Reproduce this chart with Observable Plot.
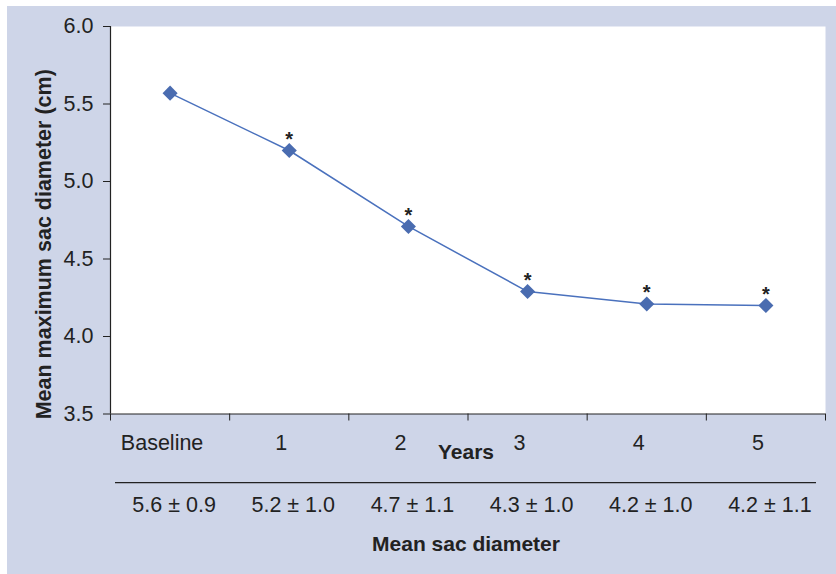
<!DOCTYPE html>
<html>
<head>
<meta charset="utf-8">
<script src="https://cdn.jsdelivr.net/npm/d3@7"></script>
<script src="https://cdn.jsdelivr.net/npm/@observablehq/plot@0.6"></script>
<style>
  html, body { margin: 0; padding: 0; background: #ffffff; }
  #chart { position: absolute; left: 7px; top: 6px; }
  #chart svg { display: block; }
</style>
</head>
<body>
<div id="chart"></div>
<script>
const categories = ["Baseline", "1", "2", "3", "4", "5"];
const meanDiameter = [5.57, 5.2, 4.71, 4.29, 4.21, 4.2];
const significant = [false, true, true, true, true, true];
const sacDiameterLabels = ["5.6 ± 0.9", "5.2 ± 1.0", "4.7 ± 1.1", "4.3 ± 1.0", "4.2 ± 1.0", "4.2 ± 1.1"];
const yTicks = [3.5, 4.0, 4.5, 5.0, 5.5, 6.0];

const data = categories.map((c, i) => ({
  pos: i + 0.5, cat: c, value: meanDiameter[i], sig: significant[i], table: sacDiameterLabels[i]
}));
const centers = data.map(d => d.pos);
const bounds = d3.range(categories.length + 1);

const font = "Liberation Sans, Arial, sans-serif";
const ink = "#222222";

const W = 829, H = 568;
const mL = 103, mR = 11, mT = 20, mB = 160.5;

const chart = Plot.plot({
  width: W,
  height: H,
  marginLeft: mL,
  marginRight: mR,
  marginTop: mT,
  marginBottom: mB,
  style: { background: "#ced5e8", fontFamily: font, color: ink, overflow: "visible" },
  x: { type: "linear", domain: [0, categories.length], axis: null },
  y: { domain: [3.5, 6.0], axis: null },
  marks: [
    Plot.frame({ fill: "white", stroke: "none" }),
    Plot.ruleX([0], { stroke: ink, strokeWidth: 1.2 }),
    Plot.ruleY([3.5], { stroke: ink, strokeWidth: 1.2 }),
    Plot.axisY({ ticks: yTicks, tickSize: 7, tickPadding: 10, fontSize: 21.5, tickFormat: d3.format(".1f"), label: null, stroke: ink }),
    Plot.axisX({ ticks: bounds, tickSize: 7, tickFormat: () => "", label: null, stroke: ink }),
    Plot.axisX({ ticks: centers, tickSize: 0, tickPadding: 20.5, fontSize: 21.5, dx: -8,
      tickFormat: d => categories[Math.floor(d)], label: null }),
    Plot.text(data, { x: "pos", text: "table", frameAnchor: "bottom", lineAnchor: "top",
      dy: 82.5, dx: 4, fontSize: 21.5, fill: ink }),
    Plot.line(data, { x: "pos", y: "value", stroke: "#4a71bd", strokeWidth: 1.5 }),
    Plot.dot(data, { x: "pos", y: "value", symbol: "diamond2", r: 6.8, fill: "#4a6cb0", stroke: "none" }),
    Plot.text(data.filter(d => d.sig), { x: "pos", y: "value", text: () => "*", dy: -11, fontSize: 20, fontWeight: "bold", fill: ink }),
    Plot.text(["Years"], { frameAnchor: "bottom", dy: 45, dx: -2, fontSize: 21, fontWeight: "bold", fill: ink }),
    Plot.text(["Mean sac diameter"], { frameAnchor: "bottom", dy: 137, dx: -2, fontSize: 21, fontWeight: "bold", fill: ink }),
    Plot.text(["Mean maximum sac diameter (cm)"], { frameAnchor: "left", textAnchor: "middle", rotate: -90, dx: -66, dy: 24,
      fontSize: 21.5, fontWeight: "bold", fill: ink })
  ]
});

// table separator line beneath the year labels
d3.select(chart).append("line")
  .attr("x1", 108).attr("x2", 809)
  .attr("y1", 476.7).attr("y2", 476.7)
  .attr("stroke", ink).attr("stroke-width", 1.3);

document.getElementById("chart").appendChild(chart);
</script>
</body>
</html>
